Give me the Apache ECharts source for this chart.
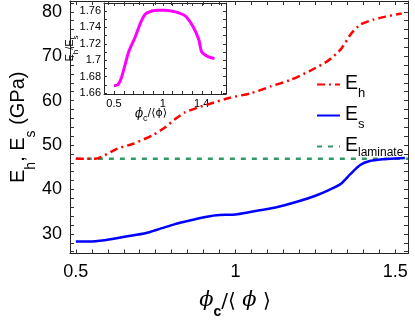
<!DOCTYPE html>
<html>
<head>
<meta charset="utf-8">
<script src="https://cdn.jsdelivr.net/npm/echarts@6/dist/echarts.min.js"></script>
<style>
html, body { margin: 0; padding: 0; background: #fff; }
#chart { width: 415px; height: 324px; }
</style>
</head>
<body>
<div id="chart"></div>
<script>
// main panel: moduli vs phi_c/<phi>
const ehX = [0.50, 0.56, 0.63, 0.68, 0.74, 0.78, 0.81, 0.84, 0.88, 0.92, 0.98, 1.05, 1.11, 1.17, 1.23, 1.29, 1.33, 1.36, 1.39, 1.43, 1.47, 1.52];
const ehY = [46.9, 46.9, 49.2, 50.3, 52.2, 54.0, 55.8, 57.3, 58.4, 59.3, 60.6, 61.7, 63.2, 64.6, 66.6, 69.0, 71.6, 74.9, 77.1, 78.2, 78.9, 79.6];
const esX = [0.50, 0.54, 0.59, 0.64, 0.69, 0.73, 0.77, 0.81, 0.85, 0.89, 0.94, 1.00, 1.05, 1.10, 1.15, 1.20, 1.25, 1.29, 1.33, 1.36, 1.39, 1.42, 1.46, 1.50, 1.53];
const esY = [28.3, 28.3, 28.6, 29.2, 29.8, 30.4, 31.3, 32.2, 32.9, 33.6, 34.2, 34.4, 35.0, 35.6, 36.4, 37.4, 38.6, 39.8, 41.3, 43.5, 45.5, 46.4, 46.8, 47.0, 47.1];
const laminateX = [0.50, 1.54];
const laminateValue = 46.9;

// inset: E_h / E_s
const ratioX = [0.50, 0.54, 0.58, 0.65, 0.72, 0.77, 0.82, 0.89, 0.95, 1.02, 1.13, 1.23, 1.31, 1.37, 1.40, 1.47, 1.53];
const ratioY = [1.669, 1.670, 1.680, 1.710, 1.729, 1.745, 1.756, 1.760, 1.761, 1.761, 1.759, 1.754, 1.741, 1.725, 1.710, 1.704, 1.702];

// tick labels
const xLabels = [0.5, 1, 1.5];
const yLabels = [30, 40, 50, 60, 70, 80];
const insetXLabels = [0.5, 1, 1.4];
const insetYLabels = [1.66, 1.68, 1.7, 1.72, 1.74, 1.76];

function steps(from, to, step, dec) {
  const out = [];
  for (let v = from; v <= to + step / 2; v += step) out.push(+v.toFixed(dec));
  return out;
}
const mainXTicks = steps(0.5, 1.5, 0.05, 2);
const mainYTicks = steps(26, 82, 2, 0);
const insetXTicks = steps(0.4, 1.6, 0.1, 1);
const insetYTicks = steps(1.66, 1.76, 0.01, 2);

const font = 'Liberation Sans, Arial, sans-serif';
const zip = (xs, ys) => xs.map((x, i) => [x, ys[i]]);

// rich-text token helpers: base glyphs hang from the top, subscripts sit at the bottom
const base = (size, pad, extra) => Object.assign({ fontSize: size, verticalAlign: 'top', padding: [pad, 0, 0, 0], lineHeight: size + pad }, extra);
const sub = (size, padTop, padBottom, extra) => Object.assign({ fontSize: size, verticalAlign: 'bottom', padding: [padTop, 0, padBottom, 0], lineHeight: size + padTop + padBottom }, extra);

const frame = { show: true, onZero: false, lineStyle: { color: '#222', width: 1 } };

function axis(grid, pos, range, ticks, labels, showLabels, size, margin, tickLen) {
  return {
    type: 'value', gridIndex: grid, position: pos, min: range[0], max: range[1],
    axisLine: frame, splitLine: { show: false }, nameMoveOverlap: false,
    axisTick: { inside: true, length: tickLen, customValues: ticks, lineStyle: { color: '#333' } },
    axisLabel: { show: showLabels, customValues: labels, fontSize: size, margin: margin, color: '#000', fontFamily: font }
  };
}
const mainXRange = [0.4817, 1.5398];
const mainYRange = [25.6, 82.42];
const insetXRange = [0.3974, 1.6487];
const insetYRange = [1.6588, 1.7698];

const xMain = axis(0, 'bottom', mainXRange, mainXTicks, xLabels, true, 18, 10, 4);
xMain.name = '{p|ϕ}{s|c}{n|/⟨ }{p|ϕ}{n| ⟩}';
xMain.nameLocation = 'middle';
xMain.nameGap = 37;
xMain.nameTextStyle = {
  fontFamily: font, color: '#000', padding: [0, 8, 0, 0],
  rich: {
    p: base(21, 0, { fontStyle: 'italic', fontFamily: 'DejaVu Serif' }),
    n: base(20, 1, { fontFamily: 'DejaVu Sans' }),
    s: sub(14, 14.5, 0, { fontWeight: 'bold' })
  }
};

const yMain = axis(0, 'left', mainYRange, mainYTicks, yLabels, true, 18, 8, 4);
yMain.name = '{e|E}{s|h}{e|, E}{s|s}{e| (GPa)}';
yMain.nameLocation = 'middle';
yMain.nameRotate = 90;
yMain.nameGap = 32;
yMain.nameTextStyle = {
  fontFamily: font, color: '#000',
  rich: { e: base(20, 0), s: sub(14, 16, 0) }
};

const xInset = axis(1, 'bottom', insetXRange, insetXTicks, insetXLabels, true, 11, 4, 3);
xInset.name = '{p|ϕ}{s|c}{n|/⟨ϕ⟩}';
xInset.nameLocation = 'middle';
xInset.nameGap = 14;
xInset.nameTextStyle = {
  fontFamily: font, color: '#000', padding: [0, 28, 0, 0],
  rich: {
    p: base(12, 0, { fontStyle: 'italic', fontFamily: 'DejaVu Serif' }),
    n: base(11, 0, { fontFamily: 'DejaVu Sans' }),
    s: sub(9, 6.5, 0)
  }
};

const yInset = axis(1, 'left', insetYRange, insetYTicks, insetYLabels, true, 11, 3, 3);
yInset.name = '{e|E}{s|h}{e|/E}{s|s}';
yInset.nameLocation = 'middle';
yInset.nameRotate = 90;
yInset.nameGap = 24;
yInset.nameTextStyle = {
  fontFamily: font, color: '#000',
  rich: { e: base(11, 0), s: sub(8, 7.5, 0) }
};

const legendNames = { E_h: '{e|E}{s|h}', E_s: '{e|E}{s|s}', E_laminate: '{e|E}{l|laminate}' };

const chart = echarts.init(document.getElementById('chart'), null, { renderer: 'canvas' });
chart.setOption({
  animation: false,
  backgroundColor: '#fff',
  textStyle: { fontFamily: font },
  grid: [
    { left: 62, top: 1, width: 346, height: 258 },
    { left: 104, top: 3, width: 122, height: 91 }
  ],
  xAxis: [
    xMain,
    axis(0, 'top', mainXRange, mainXTicks, xLabels, false, 18, 10, 4),
    xInset,
    axis(1, 'top', insetXRange, insetXTicks, insetXLabels, false, 11, 4, 3)
  ],
  yAxis: [
    yMain,
    axis(0, 'right', mainYRange, mainYTicks, yLabels, false, 18, 8, 4),
    yInset,
    axis(1, 'right', insetYRange, insetYTicks, insetYLabels, false, 11, 3, 3)
  ],
  legend: {
    data: ['E_h', 'E_s', 'E_laminate'],
    orient: 'vertical',
    left: 316,
    top: 69,
    padding: 0,
    itemWidth: 23,
    itemHeight: 12,
    itemGap: 0,
    selectedMode: false,
    itemStyle: { opacity: 0 },
    formatter: name => legendNames[name],
    textStyle: {
      color: '#000',
      rich: {
        e: base(19.5, 4.5),
        s: sub(13, 18, 0),
        l: sub(12, 15.6, 3.4)
      }
    }
  },
  series: [
    {
      name: 'E_h', type: 'line', xAxisIndex: 0, yAxisIndex: 0,
      data: zip(ehX, ehY), symbol: 'none', smooth: 0.2, z: 3,
      itemStyle: { color: '#ff0000' },
      lineStyle: { color: '#ff0000', width: 2.5, type: [8, 4, 2, 4] }
    },
    {
      name: 'E_s', type: 'line', xAxisIndex: 0, yAxisIndex: 0,
      data: zip(esX, esY), symbol: 'none', smooth: 0.2, z: 3,
      itemStyle: { color: '#0000ff' },
      lineStyle: { color: '#0000ff', width: 2.5 }
    },
    {
      name: 'E_laminate', type: 'line', xAxisIndex: 0, yAxisIndex: 0,
      data: laminateX.map(x => [x, laminateValue]), symbol: 'none', z: 2,
      itemStyle: { color: '#339966' },
      lineStyle: { color: '#339966', width: 2.5, type: [5, 6] }
    },
    {
      name: 'ratio', type: 'line', xAxisIndex: 2, yAxisIndex: 2,
      data: zip(ratioX, ratioY), symbol: 'none', smooth: 0.2,
      itemStyle: { color: '#ff00ff' },
      lineStyle: { color: '#ff00ff', width: 3 }
    }
  ]
});
</script>
</body>
</html>
